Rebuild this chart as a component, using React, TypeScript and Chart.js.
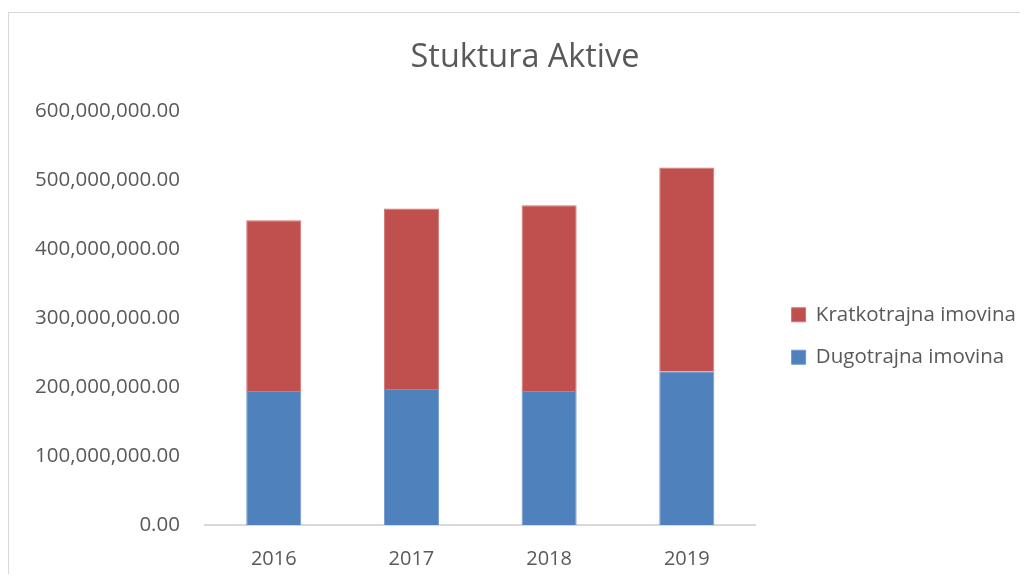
import React, { useEffect, useRef } from "react";
import { Chart, registerables } from "chart.js";

Chart.register(...registerables);

const categories = ["2016", "2017", "2018", "2019"];
const dugotrajnaImovina = [194300000, 197200000, 194300000, 222600000];
const kratkotrajnaImovina = [247100000, 261500000, 269100000, 295200000];
const chartTitle = "Stuktura Aktive";
const seriesNames = ["Dugotrajna imovina", "Kratkotrajna imovina"];

const FONT = "'Open Sans', 'Noto Sans', sans-serif";
const TEXT = "#595959";

const LEGEND_EXTRA_WIDTH = 28;
const LEGEND_SHIFT_X = 14;
const LEGEND_SHIFT_Y = 33;

const legendAdjust = {
  id: "legendAdjust",
  beforeLayout(chart: any) {
    const lg = chart.legend;
    if (lg && !lg.__patched) {
      const fit = lg.fit;
      lg.fit = function (this: any) {
        fit.call(this);
        this.width += LEGEND_EXTRA_WIDTH;
      };
      lg.__patched = true;
    }
  },
  afterLayout(chart: any) {
    const lg = chart.legend;
    if (lg) {
      lg.left += LEGEND_SHIFT_X;
      lg.right += LEGEND_SHIFT_X;
      lg.top += LEGEND_SHIFT_Y;
      lg.bottom += LEGEND_SHIFT_Y;
    }
  },
};

export default function App() {
  const ref = useRef<HTMLCanvasElement | null>(null);
  useEffect(() => {
    document.body.style.overflow = "hidden";
    let chart: Chart | null = null;
    let cancelled = false;
    const build = () => {
      if (cancelled || !ref.current) return;
      chart = new Chart(ref.current, {
        type: "bar",
        data: {
          labels: categories,
          datasets: [
            {
              label: seriesNames[0],
              data: dugotrajnaImovina,
              backgroundColor: "#4F81BD",
              borderColor: "#6f98cc",
              borderWidth: 1,
              categoryPercentage: 1,
              barPercentage: 0.4,
            },
            {
              label: seriesNames[1],
              data: kratkotrajnaImovina,
              backgroundColor: "#C0504D",
              borderColor: "#d07572",
              borderWidth: 1,
              categoryPercentage: 1,
              barPercentage: 0.4,
            },
          ],
        },
        options: {
          responsive: false,
          animation: false,
          layout: { padding: { left: 1, right: 1, top: 0, bottom: 12 } },
          plugins: {
            tooltip: { enabled: false },
            title: {
              display: true,
              text: chartTitle,
              color: TEXT,
              font: { family: FONT, size: 32.4, weight: "normal" },
              padding: { top: 25, bottom: 34 },
            },
            legend: {
              position: "right",
              reverse: true,
              labels: {
                color: TEXT,
                font: { family: FONT, size: 20.5 },
                boxWidth: 14,
                boxHeight: 14,
                padding: 22,
              },
            },
          },
          scales: {
            x: {
              stacked: true,
              grid: { display: false, drawTicks: false },
              border: { display: true, color: "#d9d9d9", width: 2 },
              ticks: { color: TEXT, font: { family: FONT, size: 20 }, padding: 22 },
            },
            y: {
              stacked: true,
              min: 0,
              max: 600000000,
              grid: { display: false, drawTicks: false },
              border: { display: false },
              ticks: {
                stepSize: 100000000,
                color: TEXT,
                font: { family: FONT, size: 20.5 },
                padding: 25,
                callback: (v: any) =>
                  Number(v).toLocaleString("en-US", {
                    minimumFractionDigits: 2,
                    maximumFractionDigits: 2,
                  }),
              },
            },
          },
        },
        plugins: [legendAdjust],
      });
    };
    const fonts: any = (document as any).fonts;
    if (fonts && fonts.load) {
      Promise.all([
        fonts.load("20px 'Open Sans'"),
        fonts.load("32px 'Open Sans'"),
      ])
        .catch(() => null)
        .then(build);
    } else {
      build();
    }
    return () => {
      cancelled = true;
      if (chart) chart.destroy();
    };
  }, []);

  return (
    <div style={{ width: 1020, height: 566, overflow: "hidden", position: "relative" }}>
      <div
        style={{
          position: "absolute",
          left: 0,
          top: 4,
          width: 1100,
          height: 700,
          borderLeft: "1px solid #d9d9d9",
          borderTop: "1px solid #d9d9d9",
        }}
      >
        <canvas ref={ref} width={1032} height={592} style={{ display: "block" }} />
      </div>
    </div>
  );
}
